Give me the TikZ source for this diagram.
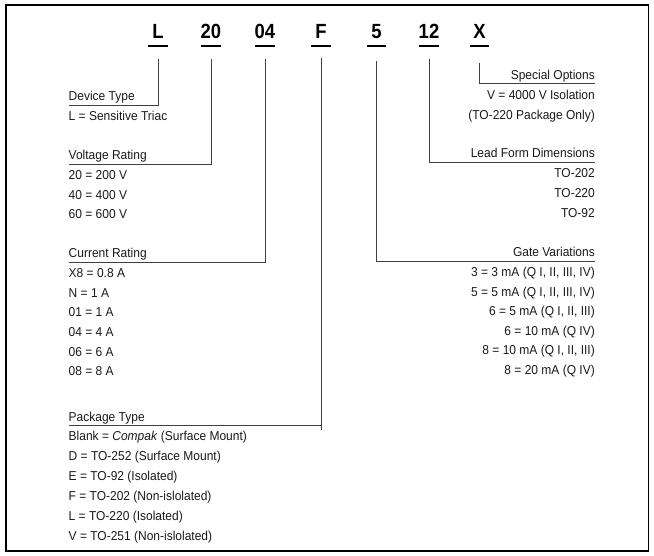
\documentclass[tikz,border=0pt]{standalone}
\usepackage{fontspec}
\setmainfont{Liberation Sans}
\newfontfamily\labfont[FakeStretch=0.93]{Liberation Sans}
\newfontfamily\codefont[FakeStretch=0.9]{Liberation Sans}
\begin{document}
\begin{tikzpicture}[x=1pt,y=-1pt,
  code/.style={font=\codefont\fontsize{20.5}{21}\selectfont\bfseries, inner sep=0pt, anchor=base},
  lab/.style={font=\labfont\fontsize{12.9}{14}\selectfont, inner sep=0pt, text=black!90},
  lft/.style={lab, anchor=base west},
  rgt/.style={lab, anchor=base east},
  codebar/.style={line width=2.5pt},
  lead/.style={line width=0.9pt, draw=black!75},
  frame/.style={line width=1.8pt}]
\useasboundingbox (0,0) rectangle (654,556);
\draw[frame] (5.9,4.9) rectangle (648.5,551);

% part number code
\node[code] (cL)  at (158,39) {L};
\node[code] (c20) at (211,39) {20};
\node[code] (c04) at (265,39) {04};
\node[code] (cF)  at (321,39) {F};
\node[code] (c5)  at (376.5,39) {5};
\node[code] (c12) at (429,39) {12};
\node[code] (cX)  at (479.5,39) {X};
\foreach \n in {cL,c20,c04,cF,c5,c12,cX}
  \draw[codebar] ([xshift=-9.7pt]\n.base |- 0,46.2) -- ([xshift=9.7pt]\n.base |- 0,46.2);

% left column
\node[lft] (dev) at (68.5,100.5) {Device Type};
\node[lft] (dev1) at (68.5,120.3) {L = Sensitive Triac};

\node[lft] (vol) at (68.5,159.3) {Voltage Rating};
\node[lft] (vol1) at (68.5,179.8) {20 = 200 V};
\node[lft] (vol2) at (68.5,199.4) {40 = 400 V};
\node[lft] (vol3) at (68.5,219.0) {60 = 600 V};

\node[lft] (cur) at (68.5,257.3) {Current Rating};
\node[lft] (cur1) at (68.5,277.8) {X8 = 0.8 A};
\node[lft] (cur2) at (68.5,297.4) {N = 1 A};
\node[lft] (cur3) at (68.5,317.0) {01 = 1 A};
\node[lft] (cur4) at (68.5,336.6) {04 = 4 A};
\node[lft] (cur5) at (68.5,356.2) {06 = 6 A};
\node[lft] (cur6) at (68.5,375.8) {08 = 8 A};

\node[lft] (pkg) at (68.5,421.3) {Package Type};
\node[lft] (pkg1) at (68.5,440.3) {Blank = \textit{Compak} (Surface Mount)};
\node[lft] (pkg2) at (68.5,460.3) {D = TO-252 (Surface Mount)};
\node[lft] (pkg3) at (68.5,480.3) {E = TO-92 (Isolated)};
\node[lft] (pkg4) at (68.5,500.3) {F = TO-202 (Non-islolated)};
\node[lft] (pkg5) at (68.5,520.3) {L = TO-220 (Isolated)};
\node[lft] (pkg6) at (68.5,540.3) {V = TO-251 (Non-islolated)};

% right column
\node[rgt] (spo) at (595,79.3) {Special Options};
\node[rgt] (spo1) at (595,99.3) {V = 4000 V Isolation};
\node[rgt] (spo2) at (595,119.3) {(TO-220 Package Only)};

\node[rgt] (lfd) at (595,157.5) {Lead Form Dimensions};
\node[rgt] (lfd1) at (595,178.0) {TO-202};
\node[rgt] (lfd2) at (595,197.6) {TO-220};
\node[rgt] (lfd3) at (595,217.2) {TO-92};

\node[rgt] (gat) at (595,257.0) {Gate Variations};
\node[rgt] (gat1) at (595,276.6) {3 = 3 mA (Q I, II, III, IV)};
\node[rgt] (gat2) at (595,296.2) {5 = 5 mA (Q I, II, III, IV)};
\node[rgt] (gat3) at (595,315.8) {6 = 5 mA (Q I, II, III)};
\node[rgt] (gat4) at (595,335.4) {6 = 10 mA (Q IV)};
\node[rgt] (gat5) at (595,355.0) {8 = 10 mA (Q I, II, III)};
\node[rgt] (gat6) at (595,374.6) {8 = 20 mA (Q IV)};

% leader lines
\draw[lead] (cL.base |- 0,59) -- (cL.base |- 0,105.5) -- (dev.west |- 0,105.5);
\draw[lead] (c20.base |- 0,59) -- (c20.base |- 0,164) -- (vol.west |- 0,164);
\draw[lead] (c04.base |- 0,59) -- (c04.base |- 0,262) -- (cur.west |- 0,262);
\draw[lead] (cF.base |- 0,58) -- (cF.base |- 0,430);
\draw[lead] (cF.base |- 0,425.5) -- (pkg.west |- 0,425.5);
\draw[lead] (c5.base |- 0,61) -- (c5.base |- 0,261) -- (gat.east |- 0,261);
\draw[lead] (c12.base |- 0,59) -- (c12.base |- 0,162) -- (lfd.east |- 0,162);
\draw[lead] (cX.base |- 0,63) -- (cX.base |- 0,83) -- (spo.east |- 0,83);
\end{tikzpicture}
\end{document}
